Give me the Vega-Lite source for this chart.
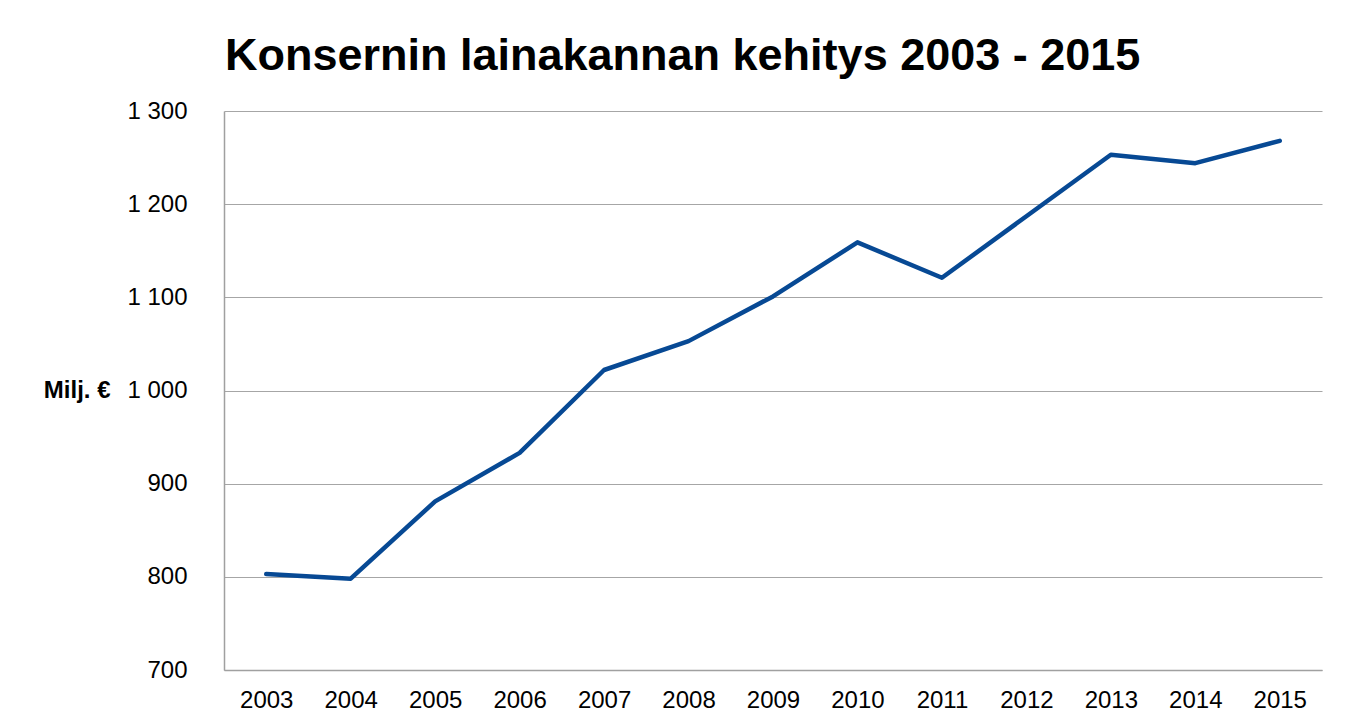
{
  "$schema": "https://vega.github.io/schema/vega-lite/v6.json",
  "autosize": {"type": "none"},
  "width": 1098,
  "height": 559,
  "padding": {"left": 224, "top": 111, "right": 32, "bottom": 57},
  "background": "white",
  "title": {
    "text": "Konsernin lainakannan kehitys 2003 - 2015",
    "font": "Liberation Sans",
    "fontSize": 45,
    "fontWeight": "bold",
    "color": "#000000",
    "anchor": "middle",
    "frame": "bounds",
    "offset": 20
  },
  "data": {
    "values": [
      {"vuosi": "2003", "laina": 803},
      {"vuosi": "2004", "laina": 798},
      {"vuosi": "2005", "laina": 881},
      {"vuosi": "2006", "laina": 933},
      {"vuosi": "2007", "laina": 1022},
      {"vuosi": "2008", "laina": 1053},
      {"vuosi": "2009", "laina": 1101},
      {"vuosi": "2010", "laina": 1159},
      {"vuosi": "2011", "laina": 1121},
      {"vuosi": "2012", "laina": 1187},
      {"vuosi": "2013", "laina": 1253},
      {"vuosi": "2014", "laina": 1244},
      {"vuosi": "2015", "laina": 1268}
    ]
  },
  "mark": {"type": "line", "color": "#074994", "strokeWidth": 4.5, "strokeJoin": "round", "strokeCap": "round"},
  "encoding": {
    "x": {
      "field": "vuosi",
      "type": "ordinal",
      "scale": {"type": "point", "padding": 0.5},
      "axis": {
        "title": null,
        "labelAngle": 0,
        "labelFont": "Liberation Sans",
        "labelFontSize": 24,
        "labelColor": "#000000",
        "labelPadding": 18,
        "ticks": false,
        "grid": false,
        "domainColor": "#a0a0a0",
        "domainWidth": 1.5
      }
    },
    "y": {
      "field": "laina",
      "type": "quantitative",
      "scale": {"domain": [700, 1300], "nice": false, "zero": false},
      "axis": {
        "values": [700, 800, 900, 1000, 1100, 1200, 1300],
        "labelExpr": "replace(format(datum.value, ','), ',', ' ')",
        "labelFont": "Liberation Sans",
        "labelFontSize": 24,
        "labelColor": "#000000",
        "labelPadding": 37,
        "ticks": false,
        "grid": true,
        "gridColor": "#a6a6a6",
        "gridWidth": 1,
        "domainColor": "#a0a0a0",
        "domainWidth": 1.5,
        "title": "Milj. €",
        "titleFont": "Liberation Sans",
        "titleFontSize": 24,
        "titleFontWeight": "bold",
        "titleColor": "#000000",
        "titleAngle": 0,
        "titleAlign": "right",
        "titleBaseline": "middle",
        "titleX": -114,
        "titleY": 279
      }
    }
  },
  "config": {"view": {"stroke": null}}
}
